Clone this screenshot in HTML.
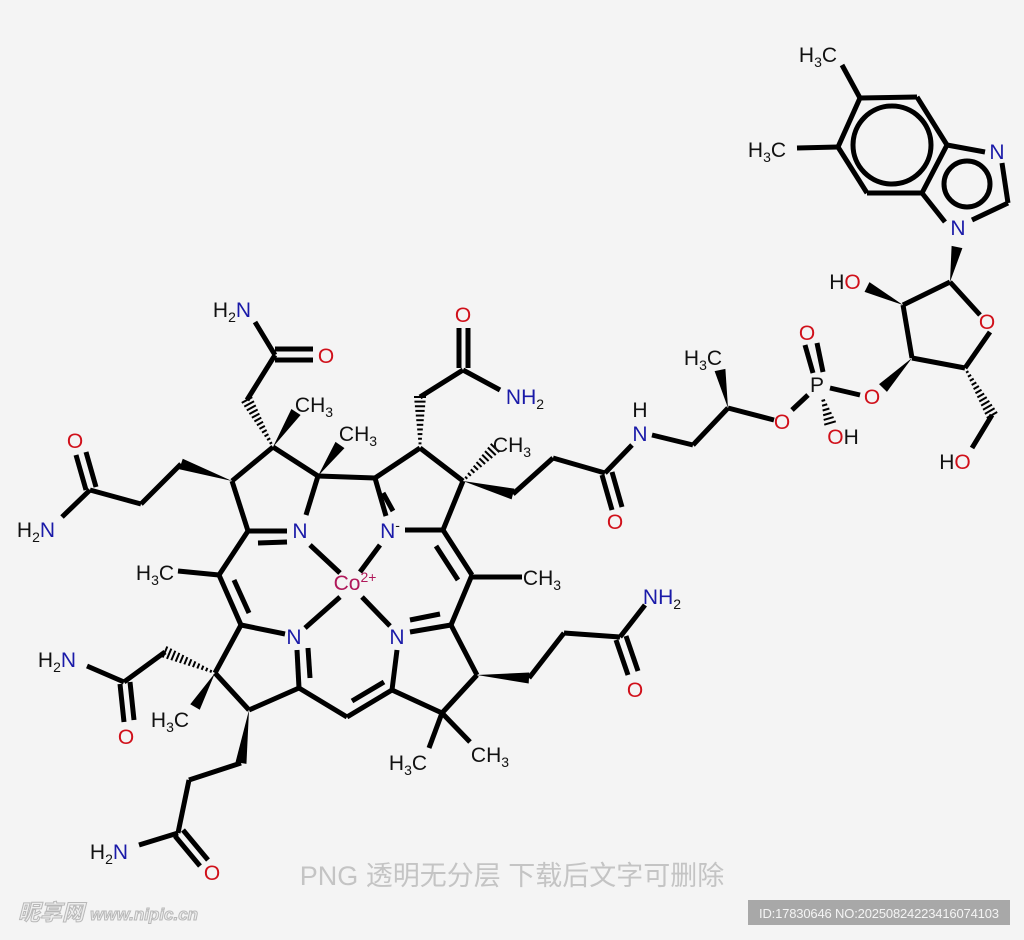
<!DOCTYPE html>
<html><head><meta charset="utf-8"><style>
html,body{margin:0;padding:0;background:#f4f4f4;}
svg{display:block}
text{font-family:"Liberation Sans","Noto Sans CJK SC",sans-serif;font-size:21px;text-anchor:middle;}
.b{fill:#1a1aa8}.r{fill:#d0101a}.k{fill:#111}.m{fill:#b0185a}
</style></head><body>
<svg id="s" width="1024" height="940" viewBox="0 0 1024 940" xmlns="http://www.w3.org/2000/svg">
<rect width="1024" height="940" fill="#f4f4f4"/>
<g id="bonds" stroke="#000" stroke-width="5" stroke-linecap="butt" fill="#000">
<path d="M853,145 A39,39 0 1,0 931,145 A39,39 0 1,0 853,145 Z" style="fill:none;stroke:#000;stroke-width:5"/>
<path d="M944,184 A23,23 0 1,0 990,184 A23,23 0 1,0 944,184 Z" style="fill:none;stroke:#000;stroke-width:5"/>
</g>
<g>
<text x="232" y="317" class="k">H<tspan font-size="14" dy="5">2</tspan><tspan class="b" dy="-5">N</tspan></text>
<text x="326" y="363" class="r">O</text>
<text x="314" y="412" class="k">CH<tspan font-size="14" dy="5">3</tspan></text>
<text x="358" y="441" class="k">CH<tspan font-size="14" dy="5">3</tspan></text>
<text x="75" y="448" class="r">O</text>
<text x="36" y="537" class="k">H<tspan font-size="14" dy="5">2</tspan><tspan class="b" dy="-5">N</tspan></text>
<text x="300" y="538" class="b">N</text>
<text x="390" y="538" class="b">N<tspan font-size="14" dy="-8" class="k">-</tspan></text>
<text x="155" y="580" class="k">H<tspan font-size="14" dy="5">3</tspan><tspan dy="-5">C</tspan></text>
<text x="355" y="590" class="m">Co<tspan font-size="14" dy="-8">2+</tspan></text>
<text x="542" y="585" class="k">CH<tspan font-size="14" dy="5">3</tspan></text>
<text x="463" y="322" class="r">O</text>
<text x="525" y="404" class="b">NH<tspan font-size="14" dy="5" class="k">2</tspan></text>
<text x="512" y="452" class="k">CH<tspan font-size="14" dy="5">3</tspan></text>
<text x="640" y="417" class="k">H</text>
<text x="640" y="441" class="b">N</text>
<text x="615" y="529" class="r">O</text>
<text x="294" y="644" class="b">N</text>
<text x="397" y="644" class="b">N</text>
<text x="57" y="667" class="k">H<tspan font-size="14" dy="5">2</tspan><tspan class="b" dy="-5">N</tspan></text>
<text x="126" y="744" class="r">O</text>
<text x="170" y="727" class="k">H<tspan font-size="14" dy="5">3</tspan><tspan dy="-5">C</tspan></text>
<text x="662" y="604" class="b">NH<tspan font-size="14" dy="5" class="k">2</tspan></text>
<text x="635" y="697" class="r">O</text>
<text x="408" y="770" class="k">H<tspan font-size="14" dy="5">3</tspan><tspan dy="-5">C</tspan></text>
<text x="490" y="762" class="k">CH<tspan font-size="14" dy="5">3</tspan></text>
<text x="109" y="859" class="k">H<tspan font-size="14" dy="5">2</tspan><tspan class="b" dy="-5">N</tspan></text>
<text x="212" y="880" class="r">O</text>
<text x="818" y="62" class="k">H<tspan font-size="14" dy="5">3</tspan><tspan dy="-5">C</tspan></text>
<text x="767" y="157" class="k">H<tspan font-size="14" dy="5">3</tspan><tspan dy="-5">C</tspan></text>
<text x="997" y="159" class="b">N</text>
<text x="958" y="235" class="b">N</text>
<text x="845" y="289" class="k">H<tspan class="r">O</tspan></text>
<text x="987" y="329" class="r">O</text>
<text x="807" y="340" class="r">O</text>
<text x="817" y="392" class="k">P</text>
<text x="872" y="404" class="r">O</text>
<text x="703" y="365" class="k">H<tspan font-size="14" dy="5">3</tspan><tspan dy="-5">C</tspan></text>
<text x="782" y="429" class="r">O</text>
<text x="843" y="444" class="r">O<tspan class="k">H</tspan></text>
<text x="955" y="469" class="k">H<tspan class="r">O</tspan></text>
</g>
<text x="512" y="885" style="font-size:27px;fill:#c4c4c4;">PNG 透明无分层 下载后文字可删除</text>
<text x="108" y="920" style="font-size:22px;fill:#eee;stroke:#b8b8b8;stroke-width:1;font-style:italic;font-weight:bold;">昵享网 <tspan style="font-size:17px">www.nipic.cn</tspan></text>
<rect x="748" y="900" width="262" height="25" fill="#a8a8a8"/>
<text x="879" y="918" style="font-size:13px;fill:#f4f4f4;" textLength="240">ID:17830646 NO:20250824223416074103</text>
</svg>
<script>
var S=[
[255,322,275,355],[275,349,313,349],[275,360,313,360],[275,355,247,400],[273,447,247,400,'h'],[273,447,296,412,'w'],
[273,447,232,481],[273,447,318,476],[318,476,340,445,'w'],[318,476,306,515],[287,531,248,531],[258,543,287,542],[232,481,248,531],
[232,481,181,464,'w'],[181,464,141,504],[141,504,90,490],[90,490,62,517],[86,490,76,455],[96,487,86,452],
[248,531,219,575],[219,575,178,571],
[318,476,375,478],[375,478,386,516],[383,493,393,511],[375,478,420,448],[420,448,420,397,'h'],[420,397,463,370],
[459,368,459,328],[468,368,468,328],[463,370,500,390],
[420,448,463,481],[463,481,443,530],[463,481,495,448,'h'],[463,481,513,494,'w'],[513,494,553,458],[553,458,605,473],[605,473,632,445],
[602,475,612,510],[612,472,622,507],
[652,435,693,445],[693,445,728,408],[728,408,720,370,'w'],[728,408,774,420],[792,410,808,395],[822,396,830,423,'h'],
[805,345,813,373],[817,343,823,372],[830,388,860,395],[912,358,883,388,'w'],
[912,358,903,305],[903,305,950,282],[950,282,980,315],[990,332,965,368],[965,368,912,358],[903,305,867,287,'w'],
[950,282,957,247,'w'],[965,368,992,415,'h'],[992,415,972,448],
[860,98,917,97],[917,97,947,145],[947,145,922,193],[922,193,867,193],[867,193,838,147],[838,147,860,98],
[860,98,842,65],[838,147,797,148],[947,145,985,152],[1002,163,1008,203],[1008,203,972,220],[945,222,922,193],
[241,625,285,634],[297,650,299,688],[308,648,310,678],[299,688,249,710],[249,710,215,673],[215,673,241,625],
[241,625,219,575],[234,580,249,613],
[215,673,165,652,'h'],[165,652,124,682],[124,682,87,666],[120,684,124,722],[130,682,134,720],
[215,673,195,707,'w'],[249,710,241,763,'w'],[241,763,189,780],[189,780,178,833],[178,833,139,845],
[175,836,200,866],[183,830,208,860],
[299,688,347,717],[347,717,392,690],[352,701,384,682],[392,690,397,650],[410,632,451,625],[410,620,440,614],
[451,625,472,575],[472,575,443,530],[436,546,458,580],[472,577,522,577],
[451,625,477,675],[477,675,442,713],[442,713,392,690],[442,713,429,748],[442,713,470,742],
[477,675,529,678,'w'],[529,678,564,633],[564,633,620,637],[620,637,645,605],[616,640,628,675],[626,636,638,671],
[443,530,405,530],[310,545,340,573],[380,545,360,572],[340,597,305,628],[362,597,390,626]
];
var g=document.getElementById('bonds'),ns='http://www.w3.org/2000/svg';
function el(t,a){var e=document.createElementNS(ns,t);for(var k in a)e.setAttribute(k,a[k]);g.appendChild(e);}
S.forEach(function(b){
 var x1=b[0],y1=b[1],x2=b[2],y2=b[3],t=b[4];
 var dx=x2-x1,dy=y2-y1,L=Math.sqrt(dx*dx+dy*dy),nx=-dy/L,ny=dx/L;
 if(t==='w'){el('polygon',{points:x1+','+y1+' '+(x2+nx*5.5)+','+(y2+ny*5.5)+' '+(x2-nx*5.5)+','+(y2-ny*5.5),stroke:'none'});}
 else if(t==='h'){var n=Math.round(L/4.5);for(var i=1;i<=n;i++){var f=i/n,cx=x1+dx*f,cy=y1+dy*f,w=1+5*f;
  el('line',{x1:cx+nx*w,y1:cy+ny*w,x2:cx-nx*w,y2:cy-ny*w,'stroke-width':2});}}
 else el('line',{x1:x1,y1:y1,x2:x2,y2:y2});
});
</script>
</body></html>
